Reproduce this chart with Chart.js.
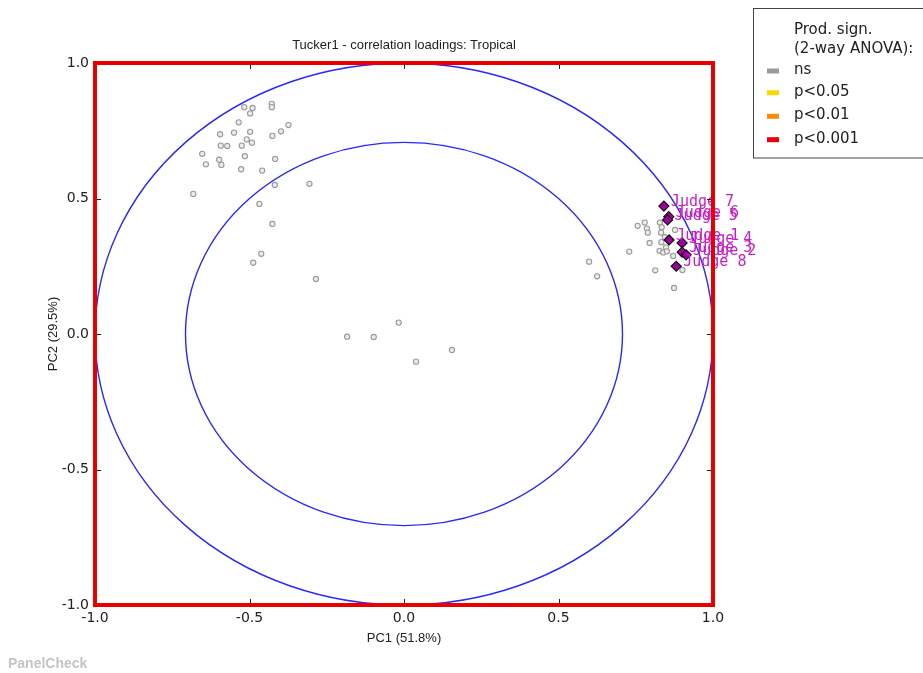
<!DOCTYPE html>
<html>
<head>
<meta charset="utf-8">
<script src="https://cdn.jsdelivr.net/npm/chart.js@4.4.1/dist/chart.umd.min.js"></script>
<style>
  html, body { margin: 0; padding: 0; background: #ffffff; }
  #wrap { width: 923px; height: 673px; position: relative; }
</style>
</head>
<body>
<div id="wrap"><canvas id="c" width="923" height="673"></canvas></div>
<script>
// ---------- data ----------
const chartTitle = "Tucker1 - correlation loadings: Tropical";
const xTitle = "PC1 (51.8%)";
const yTitle = "PC2 (29.5%)";
const tickValues = [-1.0, -0.5, 0.0, 0.5, 1.0];

// attribute loadings (gray points)
const attrPC1 = [
  -0.517, -0.490, -0.428, -0.428, -0.498, -0.535, -0.374, -0.398, -0.595, -0.550,
  -0.498, -0.426, -0.509, -0.492, -0.593, -0.572, -0.525, -0.653, -0.641, -0.598,
  -0.591, -0.515, -0.417, -0.527, -0.459, -0.418, -0.306, -0.682, -0.468, -0.426,
  -0.462, -0.488, -0.285,
  -0.184, -0.098, -0.017, 0.039, 0.155,
  0.599, 0.625, 0.729, 0.756, 0.779, 0.786, 0.789, 0.795, 0.828, 0.834,
  0.832, 0.833, 0.827, 0.839, 0.848, 0.851, 0.844, 0.877, 0.871, 0.813,
  0.901, 0.874
];
const attrPC2 = [
  0.837, 0.834, 0.849, 0.837, 0.814, 0.781, 0.771, 0.748, 0.737, 0.743,
  0.746, 0.731, 0.718, 0.706, 0.695, 0.694, 0.695, 0.665, 0.626, 0.643,
  0.624, 0.656, 0.646, 0.608, 0.603, 0.550, 0.554, 0.517, 0.480, 0.406,
  0.296, 0.263, 0.203,
  -0.010, -0.011, 0.042, -0.102, -0.059,
  0.267, 0.213, 0.304, 0.399, 0.411, 0.389, 0.374, 0.336, 0.411, 0.394,
  0.374, 0.339, 0.307, 0.301, 0.320, 0.305, 0.357, 0.384, 0.288, 0.235,
  0.236, 0.170
];

// judge loadings (magenta diamonds)
const judgeNames = ["Judge 7", "Judge 6", "Judge 5", "Judge 1", "Judge 4", "Judge 3", "Judge 2", "Judge 8"];
const judgePC1 = [0.841, 0.857, 0.853, 0.858, 0.900, 0.900, 0.913, 0.881];
const judgePC2 = [0.472, 0.433, 0.421, 0.347, 0.336, 0.302, 0.292, 0.250];

// legend (product significance)
const legendTitle = ["Prod. sign.", "(2-way ANOVA):"];
const legendLabels = ["ns", "p<0.05", "p<0.01", "p<0.001"];
const legendColors = ["#9a9a9a", "#ffd700", "#ff8c00", "#e8000b"];

const circleRadii = [1.0, Math.SQRT1_2];
const watermark = "PanelCheck";

// ---------- build ----------
const attrPoints = attrPC1.map((x, i) => ({ x: x, y: attrPC2[i] }));
const judgePoints = judgePC1.map((x, i) => ({ x: x, y: judgePC2[i] }));

const decorPlugin = {
  id: 'decor',
  beforeDatasetsDraw(chart) {
    const { ctx, scales: { x, y } } = chart;
    const cx = x.getPixelForValue(0), cy = y.getPixelForValue(0);
    ctx.save();
    ctx.strokeStyle = 'rgb(40,40,255)';
    ctx.lineWidth = 1.4;
    circleRadii.forEach(r => {
      const rx = x.getPixelForValue(r) - cx;
      const ry = cy - y.getPixelForValue(r);
      ctx.beginPath();
      ctx.ellipse(cx, cy, rx, ry, 0, 0, Math.PI * 2);
      ctx.stroke();
    });
    ctx.restore();
  },
  afterDatasetsDraw(chart) {
    const { ctx } = chart;
    const meta = chart.getDatasetMeta(0);
    ctx.save();
    ctx.font = '15px "DejaVu Sans Mono"';
    ctx.fillStyle = '#c81ec8';
    ctx.textBaseline = 'alphabetic';
    ctx.textAlign = 'left';
    meta.data.forEach((pt, i) => {
      ctx.fillText(judgeNames[i], pt.x + 7, pt.y);
    });
    ctx.restore();
  },
  afterDraw(chart) {
    const { ctx, chartArea: a, scales: { x, y } } = chart;
    ctx.save();
    // inner tick marks on all four sides
    ctx.strokeStyle = '#222';
    ctx.lineWidth = 1;
    const tl = 6;
    tickValues.forEach(v => {
      const px = Math.round(x.getPixelForValue(v)) + 0.5;
      const py = Math.round(y.getPixelForValue(v)) + 0.5;
      ctx.beginPath();
      ctx.moveTo(px, a.bottom); ctx.lineTo(px, a.bottom - tl);
      ctx.moveTo(px, a.top); ctx.lineTo(px, a.top + tl);
      ctx.moveTo(a.left, py); ctx.lineTo(a.left + tl, py);
      ctx.moveTo(a.right, py); ctx.lineTo(a.right - tl, py);
      ctx.stroke();
    });
    // red frame
    ctx.strokeStyle = 'rgb(235,0,0)';
    ctx.lineWidth = 4;
    ctx.strokeRect(a.left, a.top, a.right - a.left, a.bottom - a.top);

    // legend box
    ctx.strokeStyle = '#444';
    ctx.lineWidth = 1;
    ctx.fillStyle = '#ffffff';
    ctx.fillRect(753.5, 8.5, 200, 149.5);
    ctx.strokeRect(753.5, 8.5, 200, 149.5);
    ctx.fillStyle = '#222';
    ctx.font = '15px "DejaVu Sans"';
    ctx.textBaseline = 'alphabetic';
    ctx.textAlign = 'left';
    ctx.fillText(legendTitle[0], 794, 34);
    ctx.fillText(legendTitle[1], 794, 52.5);
    const baselines = [74, 95.7, 119.3, 142.7];
    legendLabels.forEach((lab, i) => {
      ctx.fillStyle = legendColors[i];
      ctx.fillRect(767, baselines[i] - 5.5, 12, 5);
      ctx.fillStyle = '#222';
      ctx.fillText(lab, 794, baselines[i]);
    });

    // watermark
    ctx.fillStyle = '#c4c4c4';
    ctx.font = 'bold 14px "Liberation Sans"';
    ctx.fillText(watermark, 8, 668);
    ctx.restore();
  }
};

new Chart(document.getElementById('c'), {
  type: 'scatter',
  data: {
    datasets: [
      {
        label: 'Judges',
        data: judgePoints,
        order: 0,
        pointStyle: 'rectRot',
        pointRadius: 5,
        pointHoverRadius: 5,
        backgroundColor: '#a000a0',
        borderColor: '#111111',
        borderWidth: 1.2
      },
      {
        label: 'Attributes',
        data: attrPoints,
        order: 1,
        pointStyle: 'circle',
        pointRadius: 2.6,
        pointHoverRadius: 2.6,
        backgroundColor: '#ececec',
        borderColor: '#9a9a9a',
        borderWidth: 1.1
      }
    ]
  },
  options: {
    responsive: false,
    animation: false,
    devicePixelRatio: 1,
    clip: false,
    layout: { padding: { top: 0, left: 0, right: 210, bottom: 0 } },
    plugins: {
      legend: { display: false },
      tooltip: { enabled: false },
      title: {
        display: true,
        text: chartTitle,
        fullSize: false,
        color: '#222',
        font: { family: '"Liberation Sans", Arial, sans-serif', size: 13, weight: 'normal', lineHeight: 1.2 },
        padding: { top: 38, bottom: 9.4 }
      }
    },
    scales: {
      x: {
        type: 'linear',
        min: -1, max: 1,
        afterFit(s) { s.height = 68; },
        afterBuildTicks(s) { s.ticks = tickValues.map(v => ({ value: v })); },
        grid: { display: false, drawTicks: false },
        border: { display: false },
        ticks: {
          padding: 5,
          autoSkip: false,
          maxRotation: 0,
          color: '#222',
          font: { family: '"DejaVu Sans"', size: 14 },
          callback: v => Number(v).toFixed(1)
        },
        title: {
          display: true,
          text: xTitle,
          color: '#222',
          font: { family: '"Liberation Sans", Arial, sans-serif', size: 13, lineHeight: 1.2 },
          padding: { top: 0, bottom: 27 }
        }
      },
      y: {
        type: 'linear',
        min: -1, max: 1,
        afterFit(s) { s.width = 95; },
        afterBuildTicks(s) { s.ticks = tickValues.map(v => ({ value: v })); },
        grid: { display: false, drawTicks: false },
        border: { display: false },
        ticks: {
          padding: 6,
          autoSkip: false,
          color: '#222',
          font: { family: '"DejaVu Sans"', size: 14 },
          callback: v => Number(v).toFixed(1)
        },
        title: {
          display: true,
          text: yTitle,
          color: '#222',
          font: { family: '"Liberation Sans", Arial, sans-serif', size: 13, lineHeight: 1.2 },
          padding: { top: 46, bottom: 0 }
        }
      }
    }
  },
  plugins: [decorPlugin]
});
</script>
</body>
</html>
